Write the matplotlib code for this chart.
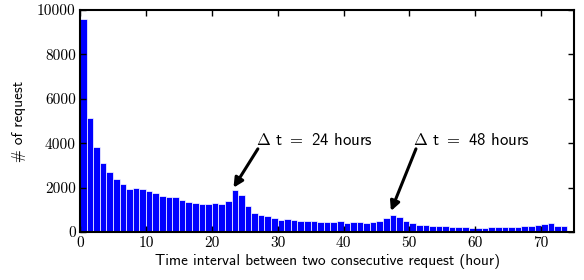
import matplotlib
matplotlib.use('Agg')
import matplotlib.pyplot as plt

# hourly bins of the gap between two requests
hours = list(range(74))
counts = [9600, 5150, 3850, 3100, 2700, 2390, 2160, 1940, 1980, 1940,
          1850, 1760, 1620, 1580, 1580, 1440, 1350, 1310, 1260, 1260,
          1310, 1260, 1400, 1890, 1670, 1170, 860, 770, 720, 630,
          540, 590, 540, 500, 500, 500, 450, 450, 450, 500,
          410, 450, 450, 410, 450, 500, 630, 770, 680, 500,
          410, 320, 320, 270, 270, 270, 230, 230, 230, 180,
          180, 180, 230, 230, 230, 230, 230, 270, 270, 320,
          360, 410, 270, 270]

xticks = [0, 10, 20, 30, 40, 50, 60, 70]
yticks = [0, 2000, 4000, 6000, 8000, 10000]

# arrow notes: (label, arrow tip, arrow tail, text position)
notes = [(r'$\Delta$ t $=$ 24 hours', (23.3, 2000), (27.0, 3750), (26.7, 4150)),
         (r'$\Delta$ t $=$ 48 hours', (47.2, 950), (51.0, 3750), (50.6, 4150))]

plt.rcParams['mathtext.fontset'] = 'cm'

fig = plt.figure(figsize=(5.84, 2.8), dpi=100)
ax = fig.add_axes([0.137, 0.171, 0.846, 0.793])

ax.bar(hours, counts, width=1.0, align='edge', color='#0000ff',
       edgecolor='white', linewidth=0.5)

for label, tip, tail, pos in notes:
    ax.text(pos[0], pos[1], label, family='cmss10', fontsize=12,
            va='center', ha='left')
    ax.annotate('', xy=tip, xytext=tail,
                arrowprops=dict(arrowstyle='-|>', color='black', lw=2.2,
                                mutation_scale=14, shrinkA=0, shrinkB=0))

ax.set_xlim(0, 75)
ax.set_ylim(0, 10000)
ax.set_xticks(xticks)
ax.set_yticks(yticks)
ax.set_xticklabels([str(t) for t in xticks], family='cmr10', fontsize=11)
ax.set_yticklabels([str(t) for t in yticks], family='cmr10', fontsize=11)
ax.tick_params(direction='in', top=True, right=True, length=4, width=1, pad=3)
for s in ax.spines.values():
    s.set_linewidth(1.5)

ax.set_xlabel('Time interval between two consecutive request (hour)',
              family='cmss10', fontsize=11, labelpad=3)
ax.set_ylabel('# of request', family='cmss10', fontsize=11, labelpad=8)

fig.savefig('out.png', dpi=100)
